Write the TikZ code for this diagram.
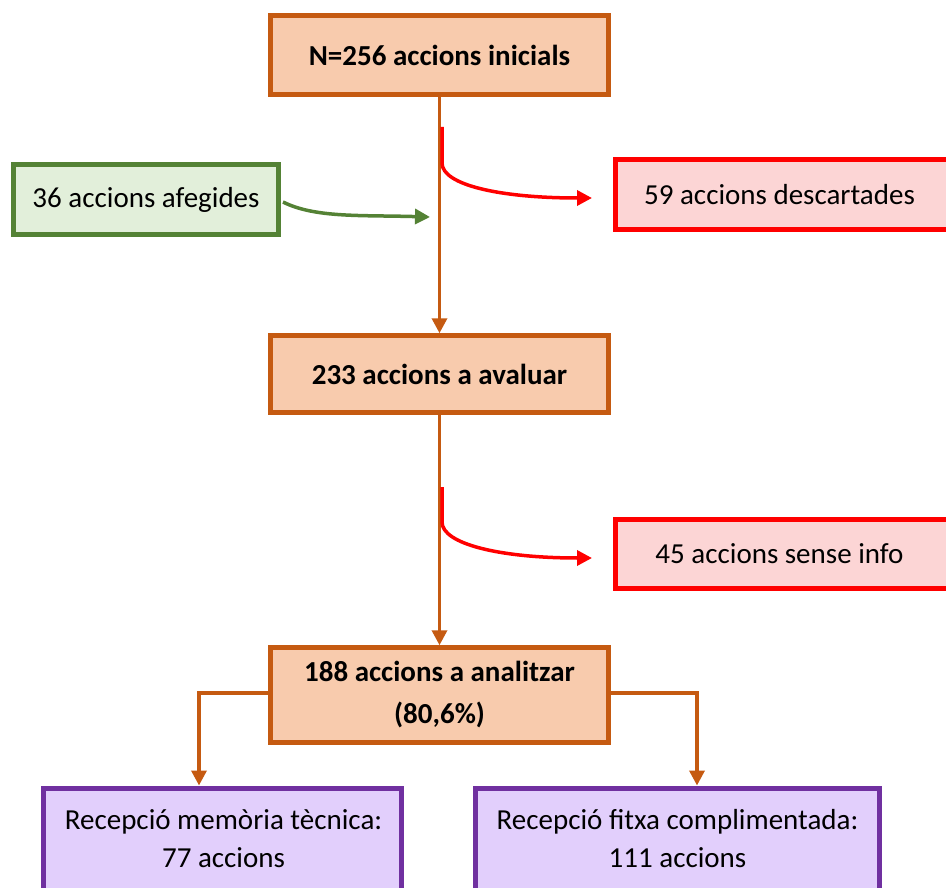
\documentclass[tikz,border=0pt]{standalone}
\usepackage{fontspec}
\setmainfont{Carlito}
\usetikzlibrary{arrows.meta}
\definecolor{orB}{HTML}{C55A11}
\definecolor{orF}{HTML}{F8CBAD}
\definecolor{grB}{HTML}{548235}
\definecolor{grF}{HTML}{E2EFDA}
\definecolor{rdB}{HTML}{FF0000}
\definecolor{rdF}{HTML}{FCD5D5}
\definecolor{puB}{HTML}{7030A0}
\definecolor{puF}{HTML}{E2CFFC}
\tikzset{
  box/.style={rectangle, line width=4.5pt, inner sep=0pt, align=center,
    font=\fontsize{29}{41}\selectfont},
  obox/.style={box, draw=orB, fill=orF, font=\fontsize{29}{42}\selectfont\bfseries},
  gbox/.style={box, draw=grB, fill=grF},
  rbox/.style={box, draw=rdB, fill=rdF, line width=5pt},
  pbox/.style={box, draw=puB, fill=puF, line width=5pt},
  txt/.style={align=center, inner sep=0pt, font=\fontsize{29}{38}\selectfont},
  oarr/.style={draw=orB, line width=3.5pt, -{Triangle[length=15pt,width=15pt]}},
  garr/.style={draw=grB, line width=3.5pt, -{Triangle[length=15pt,width=15pt]}},
  rarr/.style={draw=rdB, line width=3.5pt, -{Triangle[length=15pt,width=15pt]}},
}
\begin{document}
\begin{tikzpicture}[x=1pt,y=-1pt]
\clip (0,0) rectangle (946,888);
\useasboundingbox (0,0) rectangle (946,888);
% main boxes
\node[obox, minimum width=338pt, minimum height=79pt] (b1) at (439.5,55) {N=256 accions inicials};
\node[obox, minimum width=338pt, minimum height=77pt] (b2) at (439.5,374) {233 accions a avaluar};
\node[obox, minimum width=338pt, minimum height=95pt] (b3) at (439.5,695) {188 accions a analitzar\\(80,6\%)};
% side boxes
\node[gbox, minimum width=265pt, minimum height=70pt] (g) at (146,199.5) {36 accions afegides};
\node[rbox, minimum width=340pt, minimum height=70pt] (r1) at (785.5,194.5) {\hspace*{-12pt}59 accions descartades};
\node[rbox, minimum width=340pt, minimum height=69pt] (r2) at (785.5,554) {\hspace*{-12pt}45 accions sense info};
% bottom boxes
\node[pbox, minimum width=358pt, minimum height=140pt, anchor=north] (p1) at (222.5,785.5) {};
\node[pbox, minimum width=404pt, minimum height=140pt, anchor=north] (p2) at (677.5,785.5) {};
\node[txt] (t1) at (223.5,839) {Recepció memòria tècnica:\\77 accions};
\node[txt] (t2) at (677.5,839) {Recepció fitxa complimentada:\\111 accions};
% main flow
\draw[oarr] (b1.south) -- (b2.north);
\draw[oarr] (b2.south) -- (b3.north);
% green
\coordinate (gs) at (283,202);
\coordinate (ge) at (430,217);
\draw[garr] (gs) .. controls (315,218) and (360,215) .. (ge);
% red 1
\coordinate (rs1) at (442,127);
\coordinate (rm1) at (442,163);
\coordinate (re1) at (592,198);
\draw[rarr] (rs1) -- (rm1) .. controls (442,185) and (500,198) .. (re1);
% red 2
\coordinate (rs2) at (442,487);
\coordinate (rm2) at (442,522);
\coordinate (re2) at (592,558);
\draw[rarr] (rs2) -- (rm2) .. controls (442,544) and (500,558) .. (re2);
% branches
\coordinate (lc) at (199,693);
\coordinate (rc) at (697,693);
\draw[oarr] (b3.west |- lc) -- (lc) -- (lc |- p1.north);
\draw[oarr] (b3.east |- rc) -- (rc) -- (rc |- p2.north);
\end{tikzpicture}
\end{document}
